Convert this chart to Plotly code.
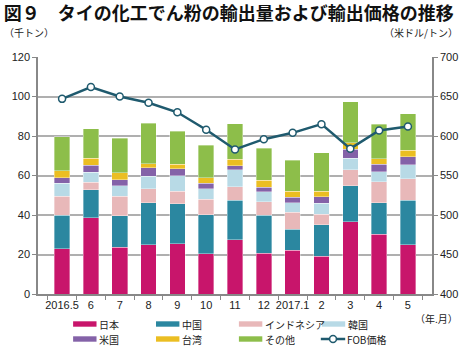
import plotly.graph_objects as go

# Monthly export volume of modified starch by destination (thousand tonnes) and FOB price (USD/t)
months = ["2016.5", "6", "7", "8", "9", "10", "11", "12", "2017.1", "2", "3", "4", "5"]
japan = [22.8, 38.5, 23.7, 25.0, 25.4, 20.4, 27.4, 20.6, 22.1, 19.1, 36.5, 30.2, 25.0]
china = [17.2, 14.3, 16.0, 21.2, 20.3, 19.8, 20.1, 19.3, 10.8, 16.0, 18.2, 16.1, 22.5]
indonesia = [9.4, 3.9, 9.9, 7.1, 6.4, 7.8, 6.8, 6.8, 8.5, 5.4, 8.2, 10.6, 10.8]
korea = [6.6, 5.0, 5.1, 6.3, 7.7, 5.2, 8.6, 5.1, 4.8, 5.5, 5.9, 5.1, 7.1]
usa = [2.8, 3.5, 3.1, 4.3, 3.6, 3.0, 2.0, 2.2, 2.7, 3.2, 4.6, 3.6, 4.1]
taiwan = [3.7, 3.5, 3.7, 2.0, 2.2, 2.6, 3.4, 3.6, 3.1, 2.9, 3.3, 2.9, 3.2]
others = [17.1, 15.1, 17.4, 20.6, 16.9, 16.5, 17.9, 16.2, 15.6, 19.3, 20.6, 17.5, 18.6]
fob_price = [647, 662, 650, 642, 630, 608, 583, 596, 604, 615, 584, 607, 612]

series_names = ["日本", "中国", "インドネシア", "韓国", "米国", "台湾", "その他"]
series_values = [japan, china, indonesia, korea, usa, taiwan, others]
series_colors = ["#C8156B", "#2B87A0", "#E8B8B9", "#B8DAE6", "#8462A8", "#EBBE22", "#8DBE4A"]
line_color = "#1F5A6E"

JP = "Noto Sans CJK JP"
NUM = "Liberation Sans"

fig = go.Figure()
for name, vals, col in zip(series_names, series_values, series_colors):
    fig.add_trace(go.Bar(
        x=months, y=vals, name=name,
        marker=dict(color=col, line=dict(color="rgba(255,255,255,0.6)", width=0.6)),
        showlegend=False,
    ))

fig.add_trace(go.Scatter(
    x=months, y=fob_price, name="FOB価格", yaxis="y2", mode="lines+markers",
    line=dict(color=line_color, width=2.5),
    marker=dict(symbol="circle", size=7, color="white", line=dict(color=line_color, width=1.5)),
    showlegend=False,
))

# Plot area: x 37..441 px, y 57..294 px in a 470x346 canvas
L, R, T, B = 37, 441, 57, 294
W, H = 470, 346


def px(x):
    return (x - L) / (R - L)


def py(y):
    return (B - y) / (B - T)


shapes = []
annotations = []

# Hand-placed legend: two rows of four entries
legend_cols = [73, 158, 243, 328]
legend_rows = [324, 339]
entries = list(zip(series_names, series_colors)) + [("FOB価格", None)]
for i, (name, col) in enumerate(entries):
    x0 = legend_cols[i % 4]
    yc = legend_rows[i // 4]
    if col is not None:
        shapes.append(dict(type="rect", xref="paper", yref="paper",
                           x0=px(x0), x1=px(x0 + 24), y0=py(yc + 2.7), y1=py(yc - 2.7),
                           fillcolor=col, line=dict(width=0)))
        tx = x0 + 26
    else:
        shapes.append(dict(type="line", xref="paper", yref="paper",
                           x0=px(x0 - 1), x1=px(x0 + 24), y0=py(yc), y1=py(yc),
                           line=dict(color=line_color, width=2.5)))
        shapes.append(dict(type="circle", xref="paper", yref="paper",
                           x0=px(x0 + 8), x1=px(x0 + 15), y0=py(yc + 3.5), y1=py(yc - 3.5),
                           fillcolor="white", line=dict(color=line_color, width=1.5)))
        tx = x0 + 25
    annotations.append(dict(text=name, xref="paper", yref="paper", x=px(tx), y=py(yc),
                            xanchor="left", yanchor="middle", showarrow=False, borderpad=0,
                            font=dict(family=JP, size=10, color="#222")))

# Unit labels
annotations += [
    dict(text="（千トン）", xref="paper", yref="paper", x=px(0), y=py(33),
         xanchor="left", yanchor="middle", showarrow=False,
         font=dict(family=JP, size=10, color="#222")),
    dict(text="（米ドル/トン）", xref="paper", yref="paper", x=px(470), y=py(33),
         xanchor="right", yanchor="middle", showarrow=False,
         font=dict(family=JP, size=10, color="#222")),
    dict(text="（年.月）", xref="paper", yref="paper", x=px(470), y=py(318),
         xanchor="right", yanchor="middle", showarrow=False,
         font=dict(family=JP, size=10, color="#222")),
]

fig.update_layout(
    width=W, height=H,
    margin=dict(l=L, r=W - R, t=T, b=H - B, pad=0),
    paper_bgcolor="white", plot_bgcolor="white",
    barmode="stack", bargap=0.46,
    title=dict(text="<b>図９　タイの化工でん粉の輸出量および輸出価格の推移</b>",
               x=0.008, xanchor="left", xref="container",
               y=1 - 14 / H, yanchor="middle",
               font=dict(family=JP, size=18, color="#111")),
    xaxis=dict(
        type="category", tickson="boundaries", ticks="outside", ticklen=4,
        tickcolor="#888", showline=True, linecolor="#888", linewidth=1.5,
        showgrid=False, tickangle=0,
        tickfont=dict(family=NUM, size=11, color="#222"),
    ),
    yaxis=dict(
        range=[0, 120], dtick=20, ticks="outside", ticklen=4, tickcolor="#888",
        showline=True, linecolor="#888", linewidth=1.5,
        showgrid=True, gridcolor="#AFAFAF", gridwidth=1.5, zeroline=False,
        tickfont=dict(family=NUM, size=11, color="#222"),
    ),
    yaxis2=dict(
        range=[400, 700], dtick=50, overlaying="y", side="right",
        ticks="outside", ticklen=4, tickcolor="#888",
        showline=True, linecolor="#888", linewidth=1.5, showgrid=False, zeroline=False,
        tickfont=dict(family=NUM, size=11, color="#222"),
    ),
    shapes=shapes,
    annotations=annotations,
    showlegend=False,
)

fig.write_html("out.html")
